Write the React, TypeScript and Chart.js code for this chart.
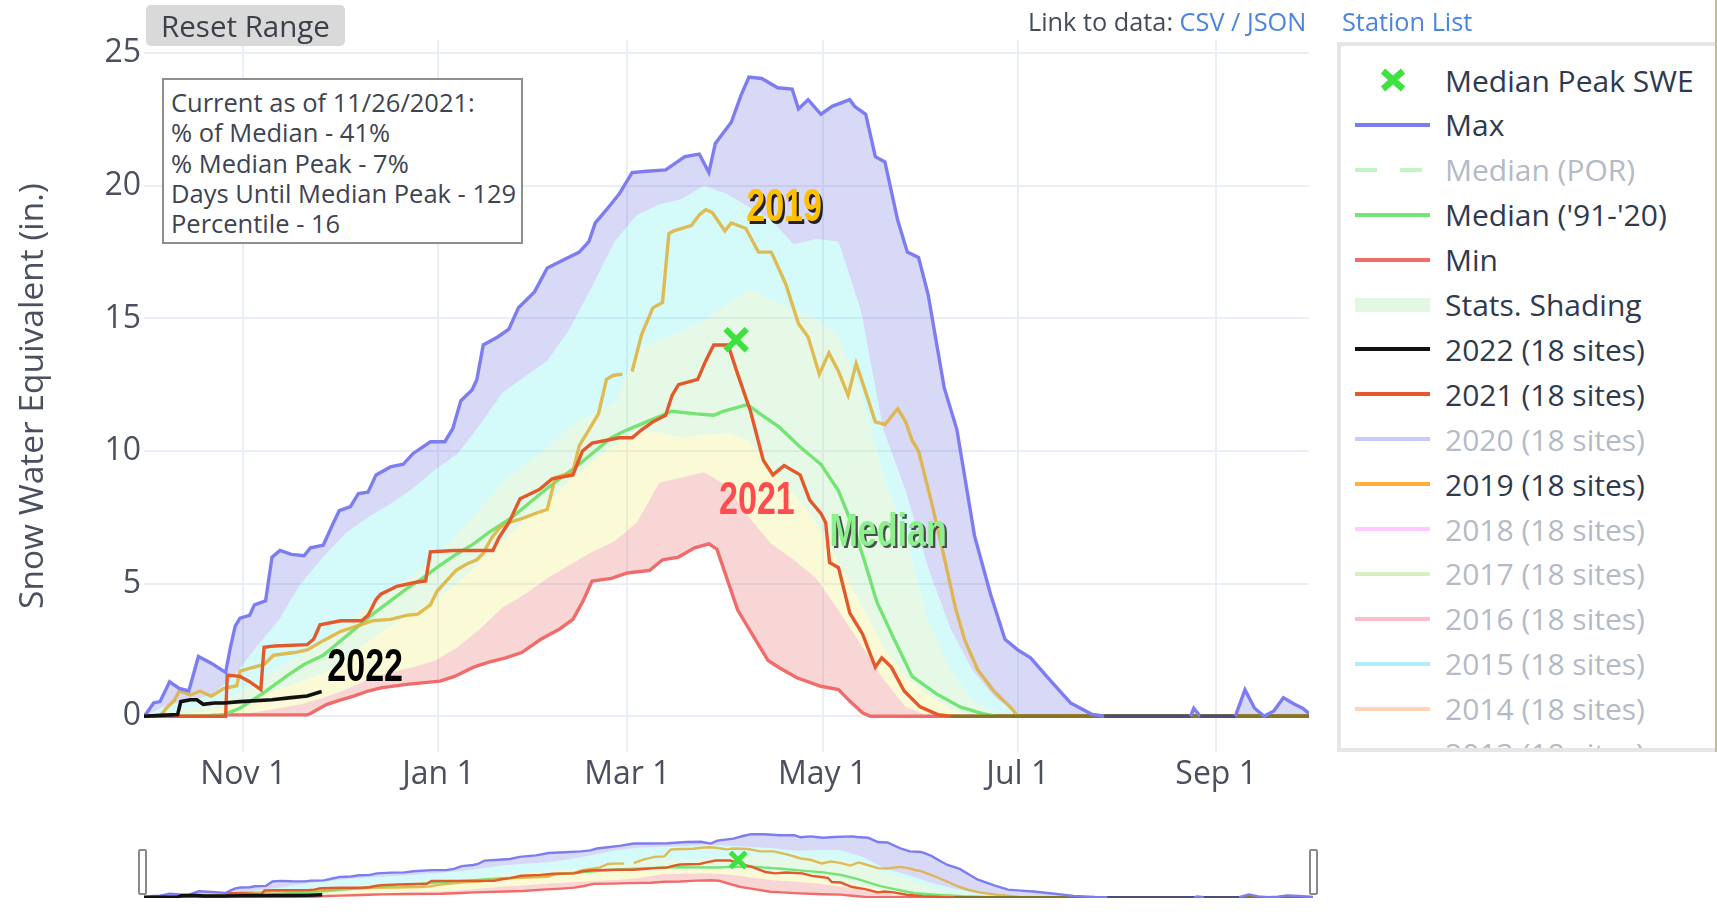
import React, { useEffect, useRef } from "react";
import { Chart, registerables } from "chart.js";

Chart.register(...registerables);

const FONT = '"Open Sans", "Noto Sans", sans-serif';
Chart.defaults.font.family = FONT;

// ---------- axes (x = days since Oct 1 of the water year) ----------
const tickDays = [31, 92, 151, 212, 273, 335];
const tickLabels = ["Nov 1", "Jan 1", "Mar 1", "May 1", "Jul 1", "Sep 1"];
const yTickValues = [0, 5, 10, 15, 20, 25];

// ---------- series: [day, SWE inches] ----------
const maxSeries = [
  [0, 0], [1, 0.15], [3, 0.5], [5, 0.55], [8, 1.3], [11, 1.05], [14, 0.95], [17, 2.25], [21, 2.0], [25.5, 1.65],
  [27, 2.6], [28.5, 3.4], [30, 3.7], [33, 3.8], [34.5, 4.2], [38, 4.35], [40, 6.0], [42.5, 6.25], [46, 6.1], [50, 6.05],
  [52, 6.35], [56, 6.45], [59, 7.25], [61, 7.75], [64.5, 7.9], [67, 8.4], [70, 8.45], [72.5, 9.1], [77, 9.4], [81, 9.5],
  [84, 9.9], [89.5, 10.35], [94, 10.35], [96.5, 10.85], [99, 11.9], [102.5, 12.3], [104, 12.7], [106, 14.0], [110.5, 14.3], [114, 14.6],
  [117, 15.4], [122, 16.0], [126, 16.9], [131, 17.2], [136, 17.5], [139, 17.9], [141, 18.6], [144.5, 19.1], [148.5, 19.7], [152.5, 20.5],
  [157, 20.55], [163, 20.6], [169, 21.1], [173.5, 21.2], [176.5, 20.5], [178.5, 21.6], [183.5, 22.4], [186.5, 23.4], [189, 24.1], [193, 24.05],
  [198, 23.7], [202.5, 23.65], [204.5, 22.9], [207.5, 23.25], [211.5, 22.7], [215, 23.0], [220.5, 23.25], [222, 23.0], [225.5, 22.7], [228.5, 21.1],
  [231.5, 20.9], [235.5, 18.7], [238.5, 17.5], [242, 17.3], [245, 15.9], [250, 12.4], [254, 10.8], [259.5, 6.8], [264.5, 4.6], [269, 2.9],
  [273, 2.5], [277, 2.2], [283.5, 1.3], [289.5, 0.5], [296, 0.08], [300, 0], [327, 0], [328, 0.3], [330, 0], [341, 0],
  [344, 1.0], [347, 0.3], [350, 0], [353, 0.2], [356, 0.7], [359.5, 0.45], [362, 0.3], [364, 0.1],
];

const minSeries = [
  [0, 0], [24, 0], [25, 0.05], [51, 0.05], [52, 0.1], [57, 0.44], [61, 0.6], [65.5, 0.76], [70, 0.95], [74, 1.07],
  [82, 1.2], [92.5, 1.32], [97, 1.5], [103, 1.85], [108, 2.05], [113, 2.2], [118, 2.4], [124, 2.9], [130, 3.3], [134, 3.65],
  [137, 4.3], [140, 5.1], [146, 5.2], [151, 5.4], [158, 5.5], [162, 5.9], [167, 6.0], [172, 6.35], [176.5, 6.5], [179, 6.3],
  [185.5, 4.0], [189.5, 3.2], [195, 2.1], [198.5, 1.83], [204, 1.45], [211.5, 1.13], [217, 1.0], [220.5, 0.57], [224.5, 0.13], [227, 0],
  [364, 0],
];

const medianSeries = [
  [0, 0], [20, 0.02], [25, 0.06], [30, 0.3], [37, 0.85], [45, 1.55], [50, 1.95], [56, 2.3], [61, 2.8], [66.5, 3.35],
  [72, 3.9], [77, 4.35], [82, 4.8], [87, 5.2], [92, 5.65], [97.5, 6.1], [103, 6.5], [108, 6.95], [115, 7.5], [120, 8.0],
  [125.5, 8.55], [131, 9.05], [136, 9.5], [141, 10.0], [146, 10.5], [151, 10.8], [157, 11.1], [165, 11.5], [172.5, 11.4], [178, 11.35],
  [181, 11.5], [184, 11.6], [188.5, 11.75], [192.5, 11.4], [198.5, 10.9], [205, 10.15], [211.5, 9.5], [217, 8.5], [222, 7.0], [225, 5.9],
  [229, 4.3], [234, 3.0], [240, 1.5], [247.5, 0.85], [255, 0.35], [262, 0.1], [266, 0], [364, 0],
];

const wy2021Series = [
  [0, 0], [25.5, 0], [26, 1.55], [30, 1.5], [33, 1.3], [36.5, 1.0], [37.5, 2.6], [41, 2.65], [51, 2.7], [53, 2.9],
  [55, 3.45], [61.5, 3.6], [68, 3.6], [70, 3.8], [72.5, 4.4], [74, 4.6], [79, 4.9], [85, 5.05], [88, 5.1], [89.5, 6.2],
  [97, 6.25], [109, 6.25], [111, 6.75], [114, 7.3], [117.5, 8.2], [123.5, 8.55], [127.5, 8.95], [134, 9.1], [137, 10.0], [140, 10.3],
  [148.5, 10.5], [152.5, 10.5], [155.5, 10.8], [159, 11.1], [163, 11.35], [165, 12.1], [167, 12.5], [173, 12.7], [175.5, 13.4], [178, 14.0],
  [182.5, 14.0], [185.5, 12.9], [189.5, 11.5], [193.5, 9.65], [196.5, 9.1], [200, 9.45], [205, 9.1], [208, 8.15], [211.5, 7.65], [213, 7.3],
  [214.2, 5.8], [217, 5.6], [220.5, 3.9], [224.5, 3.1], [228.5, 1.85], [230.5, 2.2], [233.5, 1.85], [237.5, 0.95], [242.5, 0.35], [248, 0.06],
  [252, 0], [364, 0],
];

const wy2019Series = [
  [0, 0], [5, 0], [7, 0.3], [9.5, 0.6], [11, 0.95], [14.5, 0.8], [17.5, 0.95], [21, 0.75], [25, 1.05], [29, 1.15],
  [30, 1.7], [33, 1.8], [37.5, 1.95], [40.5, 2.3], [47, 2.4], [51, 2.5], [56, 2.85], [61.5, 3.2], [66.5, 3.4], [71.5, 3.6],
  [77, 3.65], [82, 3.8], [85.5, 3.85], [89.5, 4.2], [91.5, 4.7], [94.5, 5.1], [97.5, 5.5], [101, 5.75], [104, 5.9], [106, 6.15],
  [108.5, 6.7], [111, 7.1], [114, 7.3], [118, 7.45], [123.5, 7.7], [126, 7.8], [128.5, 9.0], [134, 9.2], [136, 10.2], [139, 10.8],
  [142, 11.4], [144.5, 12.7], [146.5, 12.85], [149.5, 12.9], [151, null], [152.5, 13.0], [155.5, 14.4], [159, 15.4], [162, 15.6], [164, 18.2],
  [165.5, 18.3], [171, 18.5], [173.5, 18.9], [175.5, 19.1], [177.5, 19.0], [181.5, 18.3], [183.5, 18.6], [188, 18.4], [192, 17.5], [196, 17.5],
  [200.5, 16.3], [204.5, 14.8], [207.5, 14.3], [211, 12.9], [214, 13.7], [217, 13.0], [220, 12.1], [222.5, 13.3], [225, 12.4], [228.5, 11.1],
  [231.5, 11.0], [235.5, 11.6], [238, 11.1], [240, 10.4], [242, 10.0], [246, 8.1], [250, 6.0], [253.5, 4.1], [256.5, 2.85], [260.5, 1.75],
  [265.5, 0.95], [271, 0.3], [273, 0], [364, 0],
];

const wy2022Series = [
  [0, 0], [5, 0.03], [10.5, 0.06], [11.5, 0.55], [14.5, 0.62], [16.5, 0.62], [18.5, 0.45], [22, 0.5], [25, 0.5], [30, 0.55],
  [40, 0.62], [46, 0.7], [51, 0.76], [55.5, 0.93],
];

const medianPeakSeries = [[185, 14.2]];

// ---------- percentile shading boundaries ----------
const bandDays = [0, 7, 14, 21, 28, 35, 42, 49, 56, 63, 70, 77, 84, 91, 98, 105, 112, 119, 126, 133, 140, 147, 154, 161, 168, 175, 182, 189, 196, 203, 210, 217, 224, 231, 238, 245, 252, 259, 266, 273, 280, 364];
const p10Values = [0, 0, 0, 0, 0.05, 0.15, 0.3, 0.45, 0.7, 1.0, 1.4, 1.65, 1.85, 2.1, 2.6, 3.3, 4.1, 4.6, 5.2, 5.7, 6.2, 6.6, 7.3, 8.8, 9.0, 9.2, 8.7, 7.5, 6.5, 5.9, 5.2, 4.0, 2.7, 1.4, 0.35, 0, 0, 0, 0, 0, 0, 0];
const p30Values = [0, 0.05, 0.1, 0.2, 0.4, 0.7, 1.0, 1.3, 1.6, 2.1, 2.8, 3.4, 3.9, 4.4, 5.0, 5.8, 6.6, 7.4, 8.0, 8.9, 9.6, 10.2, 10.7, 10.7, 10.5, 10.6, 10.7, 10.4, 9.4, 8.4, 7.3, 5.8, 4.2, 2.6, 1.5, 0.8, 0.25, 0, 0, 0, 0, 0];
const p70Values = [0, 0.15, 0.3, 0.45, 0.8, 1.3, 1.8, 2.3, 2.9, 3.5, 4.2, 4.8, 5.3, 6.0, 6.9, 7.8, 8.8, 9.5, 10.1, 10.9, 11.4, 11.8, 13.8, 14.2, 14.5, 14.9, 15.5, 16.1, 15.7, 15.3, 15.0, 14.3, 12.2, 9.1, 6.8, 3.6, 1.75, 0.6, 0.1, 0, 0, 0];
const p90Values = [0, 0.4, 0.6, 0.8, 1.5, 2.6, 3.6, 5.0, 6.0, 6.9, 7.5, 8.0, 8.6, 9.3, 9.9, 11.0, 12.2, 12.8, 13.4, 14.6, 16.2, 17.9, 18.9, 19.3, 19.5, 20.0, 19.7, 19.2, 18.7, 17.8, 18.0, 17.9, 15.3, 10.8, 8.5, 5.6, 3.3, 1.7, 0.7, 0.1, 0, 0];

// ---------- legend ----------
const legendNames = ["Median Peak SWE", "Max", "Median (POR)", "Median ('91-'20)", "Min", "Stats. Shading", "2022 (18 sites)", "2021 (18 sites)", "2020 (18 sites)", "2019 (18 sites)", "2018 (18 sites)", "2017 (18 sites)", "2016 (18 sites)", "2015 (18 sites)", "2014 (18 sites)", "2013 (18 sites)"];
const legendKinds = ["x", "line", "dash", "line", "line", "band", "line", "line", "line", "line", "line", "line", "line", "line", "line", "line"];
const legendColors = ["#3ee23e", "#7d7df2", "#7be87b", "#74e474", "#f26b6b", "#e3f8e3", "#111111", "#e4592c", "#8a8af5", "#fdb13a", "#ff8cff", "#a6e07e", "#ff6f8f", "#4fd4f5", "#ffa066", "#b0a0e0"];
const legendActive = [true, true, false, true, true, true, true, true, false, true, false, false, false, false, false, false];

// ---------- text annotations on the plot ----------
const annotationLabels = [
  { text: "2019", day: 200, value: 19.15, color: "#ffc000", shadow: "#000000" },
  { text: "2021", day: 191.5, value: 8.1, color: "#ff4d4d", shadow: null },
  { text: "Median", day: 232.5, value: 6.9, color: "#8cf08c", shadow: "#2f2f2f" },
  { text: "2022", day: 69.1, value: 1.8, color: "#000000", shadow: null },
];

const TEXT = "#4a505e";
const GRID = "#e9eef7";
const ZERO_OLIVE = "#867624";
const ZERO_NAVY = "#4d4d7c";

const toPts = (s: (number | null)[][]) => s.map(([x, y]) => ({ x: x as number, y }));
const bandPts = (vals: number[]) => bandDays.map((x, i) => ({ x, y: vals[i] }));

const FILL_LAV = "rgba(125,125,228,0.3)";
const FILL_CYAN = "rgba(115,238,238,0.3)";
const FILL_GREEN = "rgba(172,235,172,0.3)";
const FILL_YELLOW = "rgba(238,238,122,0.3)";
const FILL_RED = "rgba(235,118,118,0.3)";

function buildDatasets(mini: boolean): any[] {
  const w = mini ? 2.4 : 3.4;
  const line = (label: string, data: any[], color: string, width = w, zeroColor: string | null = null) => ({
    label,
    data,
    borderColor: color,
    backgroundColor: color,
    borderWidth: width,
    pointRadius: 0,
    pointHoverRadius: 0,
    tension: 0,
    fill: false,
    spanGaps: false,
    segment: zeroColor
      ? {
          borderColor: (c: any) =>
            c.p0.parsed.y === 0 && c.p1.parsed.y === 0 && c.p0.parsed.x > 150 ? zeroColor : undefined,
        }
      : undefined,
  });
  const band = (label: string, data: any[], target: number, color: string) => ({
    label,
    data,
    borderWidth: 0,
    borderColor: "rgba(0,0,0,0)",
    backgroundColor: color,
    pointRadius: 0,
    pointHoverRadius: 0,
    tension: 0,
    fill: { target, above: color, below: color },
  });
  return [
    {
      label: "Median Peak SWE",
      data: toPts(medianPeakSeries),
      showLine: false,
      pointStyle: "crossRot",
      pointRadius: mini ? 11 : 15,
      pointHoverRadius: mini ? 11 : 15,
      pointBorderWidth: mini ? 5 : 6,
      borderColor: "#3ee23e",
      backgroundColor: "#3ee23e",
    },
    line("2022", toPts(wy2022Series), "#111111", mini ? 3.5 : 3.6),
    { ...line("Max", toPts(maxSeries), "#7d7df2", w, ZERO_NAVY), fill: { target: 10, above: FILL_LAV, below: FILL_LAV } },
    line("2021", toPts(wy2021Series), "#e4592c", w, ZERO_OLIVE),
    line("2019", toPts(wy2019Series), "rgba(222,176,58,0.85)", w, ZERO_OLIVE),
    line("Median", toPts(medianSeries), "#74e474", w, ZERO_OLIVE),
    line("Min", toPts(minSeries), "#f26b6b"),
    band("10%", bandPts(p10Values), 6, FILL_RED),
    band("30%", bandPts(p30Values), 7, FILL_YELLOW),
    band("70%", bandPts(p70Values), 8, FILL_GREEN),
    band("90%", bandPts(p90Values), 9, FILL_CYAN),
  ];
}

const labelPlugin = {
  id: "yearLabels",
  afterDatasetsDraw(chart: any) {
    const { ctx, scales } = chart;
    ctx.save();
    ctx.font = 'bold 46px "Liberation Sans", Arial, sans-serif';
    ctx.textAlign = "center";
    ctx.textBaseline = "middle";
    for (const a of annotationLabels) {
      const px = scales.x.getPixelForValue(a.day);
      const py = scales.y.getPixelForValue(a.value);
      ctx.save();
      ctx.translate(px, py);
      ctx.scale(0.74, 1);
      if (a.shadow) {
        ctx.fillStyle = a.shadow;
        ctx.globalAlpha = 0.85;
        ctx.fillText(a.text, 3, 2.5);
        ctx.globalAlpha = 1;
      }
      ctx.fillStyle = a.color;
      ctx.fillText(a.text, 0, 0);
      ctx.restore();
    }
    ctx.restore();
  },
};

function mainConfig(): any {
  return {
    type: "line",
    data: { datasets: buildDatasets(false) },
    plugins: [labelPlugin],
    options: {
      animation: false,
      responsive: false,
      maintainAspectRatio: false,
      devicePixelRatio: 1,
      events: [],
      layout: { padding: { left: 0, right: 17, top: 40, bottom: 0 } },
      plugins: {
        legend: { display: false },
        tooltip: { enabled: false },
        filler: { propagate: false, drawTime: "beforeDatasetsDraw" },
      },
      scales: {
        x: {
          type: "linear",
          min: 0,
          max: 364,
          afterBuildTicks: (s: any) => {
            s.ticks = tickDays.map((v) => ({ value: v }));
          },
          afterFit: (s: any) => {
            s.height = 48;
          },
          grid: { color: GRID, lineWidth: 2, drawTicks: false },
          border: { display: false },
          ticks: {
            autoSkip: false,
            maxRotation: 0,
            padding: 4,
            color: TEXT,
            font: { family: FONT, size: 32 },
            callback: (v: any) => {
              const i = tickDays.indexOf(Number(v));
              return i >= 0 ? tickLabels[i] : "";
            },
          },
        },
        y: {
          type: "linear",
          min: -1.35,
          max: 25.5,
          afterBuildTicks: (s: any) => {
            s.ticks = yTickValues.map((v) => ({ value: v }));
          },
          afterFit: (s: any) => {
            s.width = 144;
          },
          grid: { color: GRID, lineWidth: 2, drawTicks: false },
          border: { display: false },
          ticks: {
            padding: 3,
            color: TEXT,
            font: { family: FONT, size: 32 },
            callback: (v: any) => String(v),
          },
          title: {
            display: true,
            text: "Snow Water Equivalent (in.)",
            color: TEXT,
            font: { family: FONT, size: 33.5 },
            padding: { top: 13, bottom: 0 },
          },
        },
      },
    },
  };
}

function miniConfig(): any {
  return {
    type: "line",
    data: { datasets: buildDatasets(true) },
    options: {
      animation: false,
      responsive: false,
      maintainAspectRatio: false,
      devicePixelRatio: 1,
      events: [],
      layout: { padding: { left: 144, right: 17, top: 11, bottom: 4 } },
      plugins: {
        legend: { display: false },
        tooltip: { enabled: false },
        filler: { propagate: false, drawTime: "beforeDatasetsDraw" },
      },
      scales: {
        x: { type: "linear", min: 0, max: 364, display: false },
        y: { type: "linear", min: -0.3, max: 25.3, display: false },
      },
    },
  };
}

function LegendSymbol({ kind, color, active }: { kind: string; color: string; active: boolean }) {
  const op = active ? 1 : 0.45;
  let body: any = null;
  if (kind === "x") {
    body = <path d="M28 3 L48 21 M48 3 L28 21" stroke={color} strokeWidth={6.5} strokeLinecap="butt" />;
  } else if (kind === "line") {
    body = <line x1={0} y1={12} x2={75} y2={12} stroke={color} strokeWidth={4} />;
  } else if (kind === "dash") {
    body = <line x1={0} y1={12} x2={75} y2={12} stroke={color} strokeWidth={4} strokeDasharray="22 23" />;
  } else {
    body = <rect x={0} y={5} width={75} height={14} fill={color} />;
  }
  return (
    <svg width={75} height={24} style={{ position: "absolute", left: 14, top: 10.5, opacity: op }}>
      {body}
    </svg>
  );
}

export default function App() {
  const mainRef = useRef<HTMLCanvasElement>(null);
  const miniRef = useRef<HTMLCanvasElement>(null);

  useEffect(() => {
    const main = new Chart(mainRef.current as HTMLCanvasElement, mainConfig());
    const mini = new Chart(miniRef.current as HTMLCanvasElement, miniConfig());
    return () => {
      main.destroy();
      mini.destroy();
    };
  }, []);

  const infoLines = [
    "Current as of 11/26/2021:",
    "% of Median - 41%",
    "% Median Peak - 7%",
    "Days Until Median Peak - 129",
    "Percentile - 16",
  ];

  return (
    <div
      style={{
        position: "fixed",
        left: 0,
        top: 0,
        width: 1717,
        height: 914,
        background: "#ffffff",
        overflow: "hidden",
        fontFamily: FONT,
      }}
    >
      <canvas ref={mainRef} width={1330} height={800} style={{ position: "absolute", left: 0, top: 0 }} />
      <canvas ref={miniRef} width={1330} height={99} style={{ position: "absolute", left: 0, top: 815 }} />

      {/* range-slider handles */}
      <div style={{ position: "absolute", left: 138, top: 849, width: 9, height: 46, boxSizing: "border-box", border: "2px solid #8a8a8a", borderRadius: 2, background: "#fff" }} />
      <div style={{ position: "absolute", left: 1309, top: 849, width: 9, height: 46, boxSizing: "border-box", border: "2px solid #8a8a8a", borderRadius: 2, background: "#fff" }} />

      {/* Reset Range button */}
      <div
        style={{
          position: "absolute",
          left: 146,
          top: 5,
          width: 199,
          height: 41,
          background: "#d9d9d9",
          borderRadius: 5,
          color: "#3a3f48",
          fontSize: 29.5,
          lineHeight: "41px",
          textAlign: "center",
          whiteSpace: "nowrap",
        }}
      >
        Reset Range
      </div>

      {/* info box */}
      <div
        style={{
          position: "absolute",
          left: 162,
          top: 78,
          width: 361,
          height: 166,
          boxSizing: "border-box",
          border: "2px solid #8e8e8e",
          background: "#ffffff",
          paddingTop: 7,
          paddingLeft: 7,
          fontSize: 25.5,
          lineHeight: "30.3px",
          color: "#3d4452",
          whiteSpace: "nowrap",
        }}
      >
        {infoLines.map((t, i) => (
          <div key={i}>{t}</div>
        ))}
      </div>

      {/* links */}
      <div style={{ position: "absolute", left: 1028, top: 5, fontSize: 25.3, lineHeight: "32px", color: "#454b58", whiteSpace: "nowrap" }}>
        Link to data: <span style={{ color: "#4a84e4" }}>CSV / JSON</span>
      </div>
      <div style={{ position: "absolute", left: 1342, top: 5, fontSize: 25.3, lineHeight: "32px", color: "#4a84e4", whiteSpace: "nowrap" }}>
        Station List
      </div>

      {/* legend */}
      <div
        style={{
          position: "absolute",
          left: 1337,
          top: 42,
          width: 400,
          height: 710,
          boxSizing: "border-box",
          border: "4px solid #e6e6e6",
          background: "#ffffff",
          overflow: "hidden",
        }}
      >
        {legendNames.map((name, i) => (
          <div key={i} style={{ position: "absolute", left: 0, top: 11.5 + i * 44.9, width: 392, height: 45 }}>
            <LegendSymbol kind={legendKinds[i]} color={legendColors[i]} active={legendActive[i]} />
            <div
              style={{
                position: "absolute",
                left: 104,
                top: 0,
                fontSize: 30,
                lineHeight: "45px",
                color: legendActive[i] ? "#2f3a4e" : "#b4bac6",
                whiteSpace: "nowrap",
              }}
            >
              {name}
            </div>
          </div>
        ))}
      </div>
      <div style={{ position: "absolute", left: 1715, top: 0, width: 2, height: 752, background: "#bdbd96" }} />
    </div>
  );
}
